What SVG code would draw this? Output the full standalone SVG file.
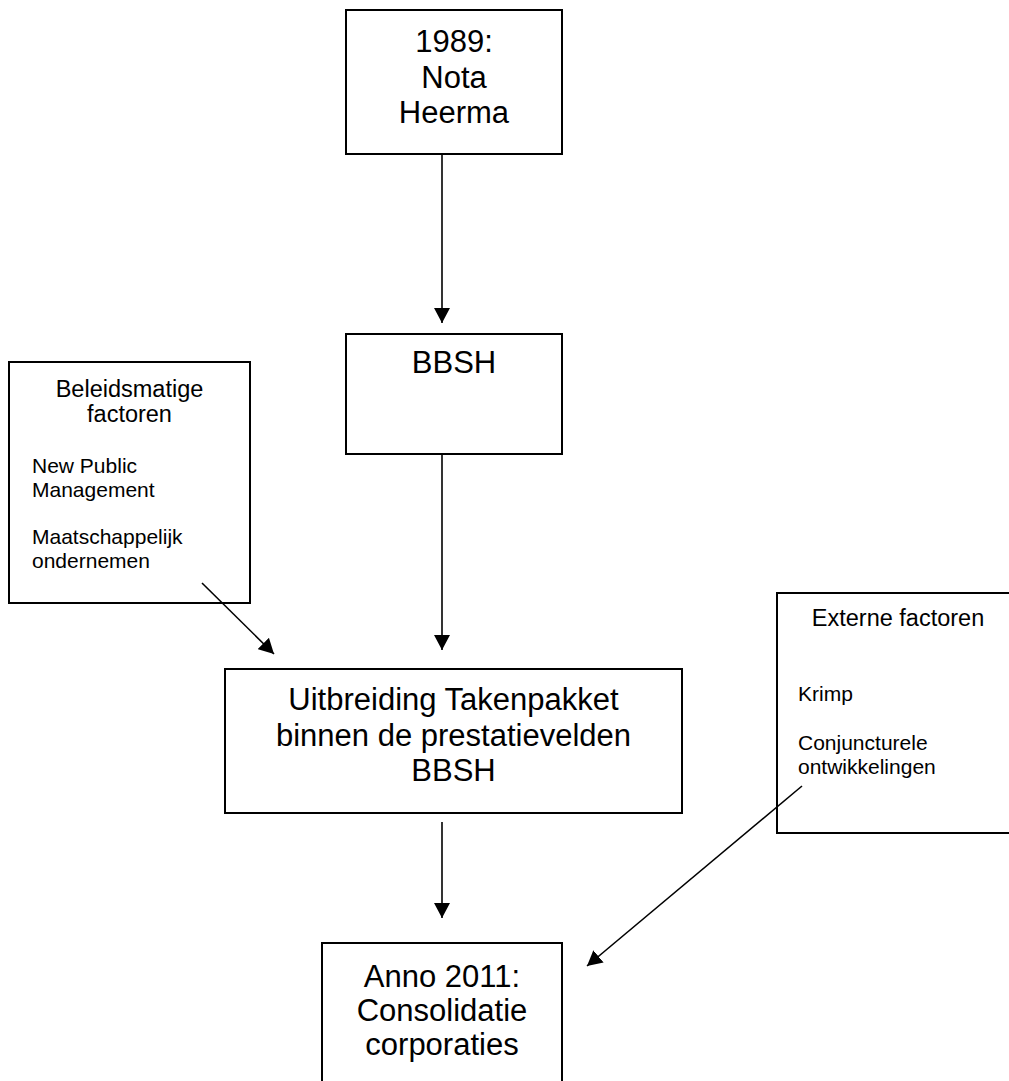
<svg xmlns="http://www.w3.org/2000/svg" width="1009" height="1081" viewBox="0 0 1009 1081">
  <style>
    .box { fill: #ffffff; stroke: #000000; stroke-width: 2; }
    .big { font-family: "Liberation Sans", Arial, sans-serif; font-size: 31px; fill: #000; text-anchor: middle; }
    .head { font-family: "Liberation Sans", Arial, sans-serif; font-size: 23.5px; fill: #000; text-anchor: middle; }
    .small { font-family: "Liberation Sans", Arial, sans-serif; font-size: 21px; fill: #000; }
    .conn { stroke: #000000; stroke-width: 1.6; fill: none; marker-end: url(#ah); }
  </style>
  <defs>
    <marker id="ah" markerUnits="userSpaceOnUse" markerWidth="16" markerHeight="16" refX="15" refY="8" orient="auto">
      <path d="M0,0 L15,8 L0,16 Z" fill="#000"/>
    </marker>
  </defs>
  <rect width="1009" height="1081" fill="#ffffff"/>

  <g id="node-nota">
    <rect class="box" x="346" y="10" width="216" height="144"/>
    <text class="big" x="454" y="52">1989:</text>
    <text class="big" x="454" y="87.5">Nota</text>
    <text class="big" x="454" y="123">Heerma</text>
  </g>

  <g id="node-bbsh">
    <rect class="box" x="346" y="334" width="216" height="120"/>
    <text class="big" x="454" y="373">BBSH</text>
  </g>

  <g id="node-beleid">
    <rect class="box" x="9" y="362" width="241" height="241"/>
    <text class="head" x="129.5" y="397">Beleidsmatige</text>
    <text class="head" x="129.5" y="422">factoren</text>
    <text class="small" x="32" y="473">New Public</text>
    <text class="small" x="32" y="497">Management</text>
    <text class="small" x="32" y="544">Maatschappelijk</text>
    <text class="small" x="32" y="568">ondernemen</text>
  </g>

  <g id="node-extern">
    <rect class="box" x="777" y="593" width="242" height="240"/>
    <text class="head" x="898" y="626">Externe factoren</text>
    <text class="small" x="798" y="701">Krimp</text>
    <text class="small" x="798" y="750">Conjuncturele</text>
    <text class="small" x="798" y="774">ontwikkelingen</text>
  </g>

  <g id="node-uitbreiding">
    <rect class="box" x="225" y="669" width="457" height="144"/>
    <text class="big" x="453.5" y="710">Uitbreiding Takenpakket</text>
    <text class="big" x="453.5" y="746">binnen de prestatievelden</text>
    <text class="big" x="453.5" y="781">BBSH</text>
  </g>

  <g id="node-anno">
    <rect class="box" x="322" y="943" width="240" height="150"/>
    <text class="big" x="442" y="987">Anno 2011:</text>
    <text class="big" x="442" y="1021">Consolidatie</text>
    <text class="big" x="442" y="1055">corporaties</text>
  </g>

  <g id="connectors">
    <line class="conn" x1="442" y1="154" x2="442" y2="323"/>
    <line class="conn" x1="442" y1="454" x2="442" y2="650"/>
    <line class="conn" x1="442" y1="822" x2="442" y2="918"/>
    <line class="conn" x1="202" y1="583" x2="274" y2="654"/>
    <line class="conn" x1="802" y1="786" x2="587" y2="966"/>
  </g>
</svg>
